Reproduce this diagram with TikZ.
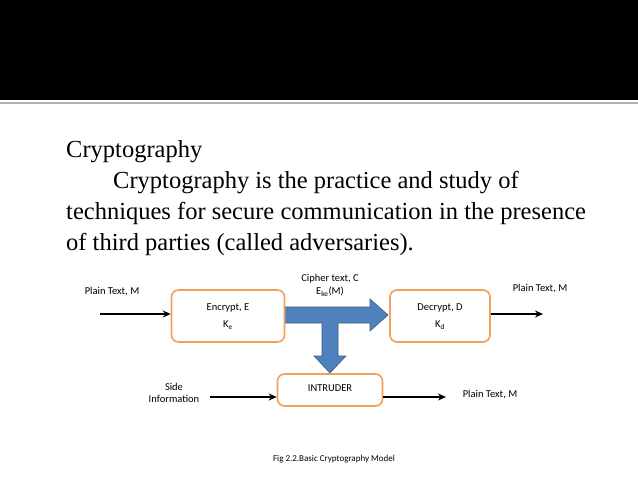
\documentclass[tikz,border=0pt]{standalone}
\usepackage{fontspec}
\usetikzlibrary{arrows.meta}
\setmainfont{Liberation Serif}
\newfontfamily\dg{Carlito}
\definecolor{boxor}{RGB}{240,160,90}
\definecolor{bluef}{RGB}{79,129,189}
\definecolor{blued}{RGB}{56,93,138}
\tikzset{
 procbox/.style={draw=boxor,line width=1.6pt,rounded corners=7pt,fill=white},
 lbl/.style={font=\dg\fontsize{10.5}{12.5}\selectfont,align=center},
 body/.style={font=\fontsize{24.5}{29}\selectfont,anchor=base west,inner sep=0},
 conn/.style={-{Stealth[length=8pt,width=7pt]},line width=1.5pt},
 bigarrow/.style={fill=bluef,draw=blued,line width=0.6pt}
}
\begin{document}
\begin{tikzpicture}[x=1pt,y=-1pt]
\useasboundingbox (0,0) rectangle (638,479);
\fill[white] (0,0) rectangle (638,479);
\fill[black] (0,0) rectangle (638,100);
\fill[gray!60] (0,102) rectangle (638,104);
\node[body] (t1) at (66,157) {Cryptography};
\node[body] (t2) at (113,188) {Cryptography is the practice and study of};
\node[body] (t3) at (66,219) {techniques for secure communication in the presence};
\node[body] (t4) at (66,250) {of third parties (called adversaries).};
\draw[bigarrow] (277,307) -- (370,307) -- (370,299) -- (388,315) -- (370,331) -- (370,323) -- (338,323) -- (338,356) -- (346,356) -- (330,373) -- (314,356) -- (322,356) -- (322,323) -- (277,323) -- cycle;
\node[procbox,minimum width=113pt,minimum height=52pt] (enc) at (228,316) {};
\node[lbl] at (228,308) {Encrypt, E};
\node[lbl] at (228,325) {K\textsubscript{e}};
\node[procbox,minimum width=100pt,minimum height=52pt] (dec) at (440,316) {};
\node[lbl] at (440,308) {Decrypt, D};
\node[lbl] at (440,325) {K\textsubscript{d}};
\node[procbox,minimum width=105pt,minimum height=32pt] (intr) at (330,390) {};
\node[lbl] at (330,388) {INTRUDER};
\node[lbl] (pin) at (112,292) {Plain Text, M};
\node[lbl] (pout) at (540,289) {Plain Text, M};
\node[lbl] (ct) at (330,285) {Cipher text, C\\[1pt]E\textsubscript{ke}(M)};
\node[lbl] (side) at (174,393) {Side\\Information};
\node[lbl] (pint) at (490,395) {Plain Text, M};
\coordinate (a0) at (100,314);
\coordinate (a1) at (543,314);
\coordinate (s0) at (210,397);
\coordinate (p1) at (446,397);
\draw[conn] (a0) -- (enc.west|-a0);
\draw[conn] (dec.east|-a1) -- (a1);
\draw[conn] (s0) -- (intr.west|-s0);
\draw[conn] (intr.east|-p1) -- (p1);
\node[lbl,font=\dg\fontsize{9}{11}\selectfont] (cap) at (334,459) {Fig 2.2.Basic Cryptography Model};
\end{tikzpicture}
\end{document}
